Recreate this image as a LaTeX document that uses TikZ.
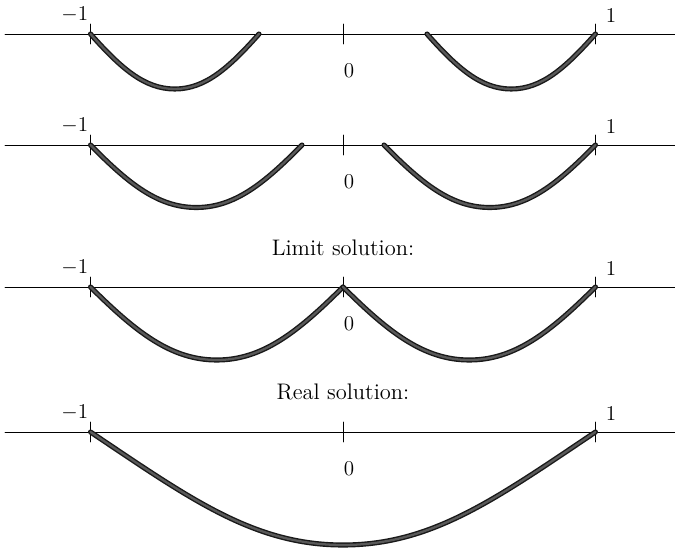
\documentclass[tikz,border=0pt]{standalone}
\usepackage{amsmath,amssymb}
\usepackage{tikz}
\usetikzlibrary{calc}

\begin{document}
\begin{tikzpicture}[line join=round, line cap=round,
  axisline/.style={line width=0.5pt},
  tickmark/.style={line width=0.5pt},
  sol/.style={line width=0.8pt, draw=black!90, double=black!65, double distance=1.3pt},
  lab/.style={font=\fontsize{12.8}{15}\selectfont, inner sep=0.6pt}]
\useasboundingbox (-6.86,0) rectangle (6.64,-11);
% first row
\coordinate (L1) at (-6.76,-0.68);
\coordinate (R1) at (6.64,-0.68);
\coordinate (A1) at (-5.05,-0.68);
\coordinate (O1) at (0.00,-0.68);
\coordinate (B1) at (5.05,-0.68);
\coordinate (P1) at (-1.68,-0.68);
\coordinate (Q1) at (1.68,-0.68);
\coordinate (M1) at (-3.365,-1.78);
\coordinate (N1) at (3.365,-1.78);
\draw[axisline] (L1) -- (R1);
\draw[tickmark] ($(A1)+(0,0.2)$) -- ($(A1)-(0,0.2)$);
\draw[tickmark] ($(O1)+(0,0.2)$) -- ($(O1)-(0,0.2)$);
\draw[tickmark] ($(B1)+(0,0.2)$) -- ($(B1)-(0,0.2)$);
\draw[sol] (A1) .. controls +(0.607,-0.682) and +(-0.607,0) .. (M1)
  .. controls +(0.607,0) and +(-0.607,-0.682) .. (P1);
\draw[sol] (Q1) .. controls +(0.607,-0.682) and +(-0.607,0) .. (N1)
  .. controls +(0.607,0) and +(-0.607,-0.682) .. (B1);
\node[lab, anchor=south east] (m1) at ($(A1)+(-0.02,0.2)$) {$-1$};
\node[lab, anchor=south west] (p1) at ($(B1)+(0.18,0.2)$) {$1$};
\node[lab, anchor=north] (z1) at ($(O1)+(0.12,-0.58)$) {$0$};
% second row
\coordinate (L2) at (-6.76,-2.90);
\coordinate (R2) at (6.64,-2.90);
\coordinate (A2) at (-5.05,-2.90);
\coordinate (O2) at (0.00,-2.90);
\coordinate (B2) at (5.05,-2.90);
\coordinate (P2) at (-0.82,-2.90);
\coordinate (Q2) at (0.82,-2.90);
\coordinate (M2) at (-2.935,-4.15);
\coordinate (N2) at (2.935,-4.15);
\draw[axisline] (L2) -- (R2);
\draw[tickmark] ($(A2)+(0,0.2)$) -- ($(A2)-(0,0.2)$);
\draw[tickmark] ($(O2)+(0,0.2)$) -- ($(O2)-(0,0.2)$);
\draw[tickmark] ($(B2)+(0,0.2)$) -- ($(B2)-(0,0.2)$);
\draw[sol] (A2) .. controls +(0.761,-0.775) and +(-0.761,0) .. (M2)
  .. controls +(0.761,0) and +(-0.761,-0.775) .. (P2);
\draw[sol] (Q2) .. controls +(0.761,-0.775) and +(-0.761,0) .. (N2)
  .. controls +(0.761,0) and +(-0.761,-0.775) .. (B2);
\node[lab, anchor=south east] (m2) at ($(A2)+(-0.02,0.2)$) {$-1$};
\node[lab, anchor=south west] (p2) at ($(B2)+(0.18,0.2)$) {$1$};
\node[lab, anchor=north] (z2) at ($(O2)+(0.12,-0.58)$) {$0$};
% limit solution
\coordinate (L3) at (-6.76,-5.74);
\coordinate (R3) at (6.64,-5.74);
\coordinate (A3) at (-5.05,-5.74);
\coordinate (O3) at (0.00,-5.74);
\coordinate (B3) at (5.05,-5.74);
\coordinate (M3) at (-2.525,-7.2);
\coordinate (N3) at (2.525,-7.2);
\node[lab] (lim) at (0,-4.96) {Limit solution:};
\draw[axisline] (L3) -- (R3);
\draw[tickmark] ($(A3)+(0,0.2)$) -- ($(A3)-(0,0.2)$);
\draw[tickmark] ($(O3)+(0,0.2)$) -- ($(O3)-(0,0.2)$);
\draw[tickmark] ($(B3)+(0,0.2)$) -- ($(B3)-(0,0.2)$);
\draw[sol] (A3) .. controls +(0.909,-0.905) and +(-0.909,0) .. (M3)
  .. controls +(0.909,0) and +(-0.909,-0.905) .. (O3);
\draw[sol] (O3) .. controls +(0.909,-0.905) and +(-0.909,0) .. (N3)
  .. controls +(0.909,0) and +(-0.909,-0.905) .. (B3);
\node[lab, anchor=south east] (m3) at ($(A3)+(-0.02,0.2)$) {$-1$};
\node[lab, anchor=south west] (p3) at ($(B3)+(0.18,0.2)$) {$1$};
\node[lab, anchor=north] (z3) at ($(O3)+(0.12,-0.58)$) {$0$};
% real solution
\coordinate (L4) at (-6.76,-8.64);
\coordinate (R4) at (6.64,-8.64);
\coordinate (A4) at (-5.05,-8.64);
\coordinate (O4) at (0.00,-8.64);
\coordinate (B4) at (5.05,-8.64);
\coordinate (M4) at (0,-10.9);
\node[lab] (real) at (0,-7.84) {Real solution:};
\draw[axisline] (L4) -- (R4);
\draw[tickmark] ($(A4)+(0,0.2)$) -- ($(A4)-(0,0.2)$);
\draw[tickmark] ($(O4)+(0,0.2)$) -- ($(O4)-(0,0.2)$);
\draw[tickmark] ($(B4)+(0,0.2)$) -- ($(B4)-(0,0.2)$);
\draw[sol] (A4) .. controls +(2.02,-1.356) and +(-1.77,0) .. (M4)
  .. controls +(1.77,0) and +(-2.02,-1.356) .. (B4);
\node[lab, anchor=south east] (m4) at ($(A4)+(-0.02,0.2)$) {$-1$};
\node[lab, anchor=south west] (p4) at ($(B4)+(0.18,0.2)$) {$1$};
\node[lab, anchor=north] (z4) at ($(O4)+(0.12,-0.58)$) {$0$};
\end{tikzpicture}
\end{document}
